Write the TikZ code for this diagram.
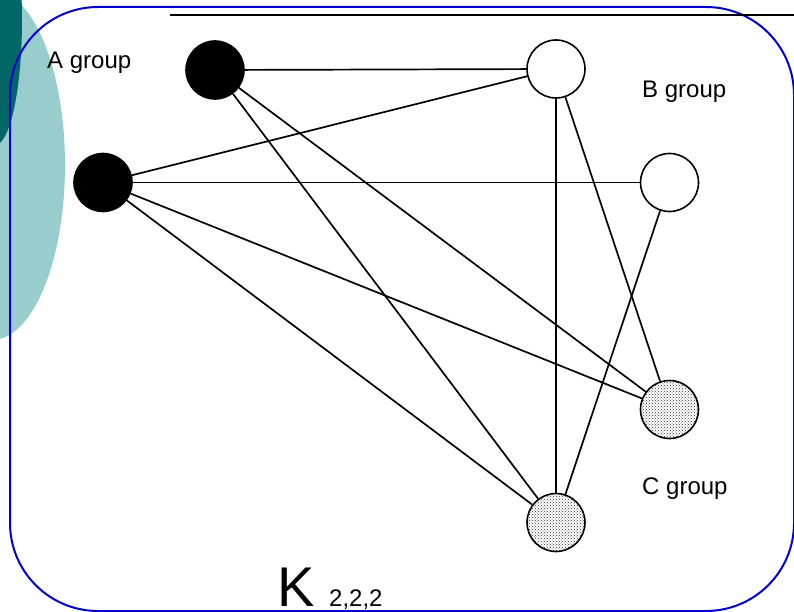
\documentclass[tikz,border=0pt]{standalone}
\usepackage{fontspec}
\setmainfont{Liberation Sans}
\usepackage{tikz}
\usetikzlibrary{positioning,patterns}
\definecolor{darkteal}{RGB}{0,102,102}
\definecolor{lightteal}{RGB}{153,204,204}
\definecolor{frameblue}{RGB}{0,0,204}
\tikzset{
	avert/.style={circle,inner sep=0,fill=black,draw,line width=1.6pt,minimum size=58pt},
	bvert/.style={circle,inner sep=0,fill=white,draw,line width=1.6pt,minimum size=58pt},
	cvert/.style={circle,inner sep=0,pattern=crosshatch dots,pattern color=black!80,draw,line width=1.6pt,minimum size=58pt},
	edge/.style={color=black, line width=1.7pt},
	grouplabel/.style={anchor=base west,inner sep=0,font=\fontsize{24}{28}\selectfont}
}
\begin{document}
\begin{tikzpicture}[x=1pt,y=-1pt]
		\useasboundingbox (0,0) rectangle (794,612);
		\clip (0,0) rectangle (794,612);
		%%%background
		\fill[lightteal] (-8,165) ellipse [x radius=73, y radius=175];
		\fill[darkteal] (-5,20) ellipse [x radius=27, y radius=125];
		\draw[frameblue,line width=2pt,rounded corners=88pt] (10,7) rectangle (794,611);
		\draw[line width=2.2pt] (170,15) -- (794,15);
		%%%groups
		\node[avert] (a1) at (215,70) {};
		\node[avert] (a2) at (103,182.5) {};
		\node[bvert] (b1) at (556,69) {};
		\node[bvert] (b2) at (669.5,182.5) {};
		\node[cvert] (c1) at (669.5,409.5) {};
		\node[cvert] (c2) at (556,522.5) {};
		\draw[edge] (a1) -- (b1);
		\draw[edge] (a1) -- (c1);
		\draw[edge] (a1) -- (c2);
		\draw[edge] (a2) -- (b1);
		\draw[edge] (a2) -- (b2);
		\draw[edge] (a2) -- (c1);
		\draw[edge] (a2) -- (c2);
		\draw[edge] (b1) -- (c1);
		\draw[edge] (b1) -- (c2);
		\draw[edge] (b2) -- (c2);
		%%%labels
		\node[grouplabel] (alabel) at (47,69) {A group};
		\node[grouplabel] (blabel) at (642,98) {B group};
		\node[grouplabel] (clabel) at (642,494) {C group};
		\node[anchor=base west,inner sep=0,font=\fontsize{56}{60}\selectfont] (kname) at (277,606) {K};
		\node[grouplabel] (kindex) at (329,606) {2,2,2};
	\end{tikzpicture}
\end{document}
